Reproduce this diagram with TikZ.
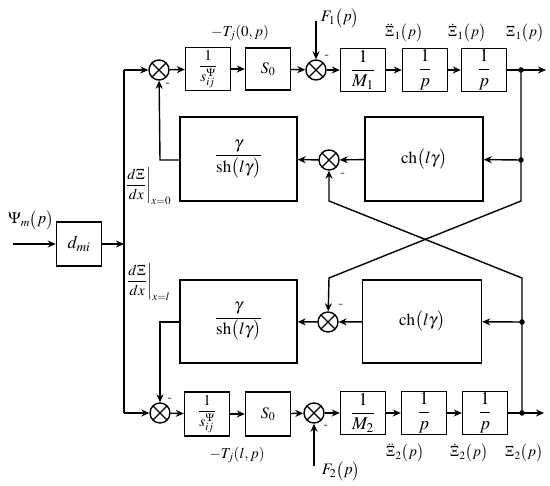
\documentclass[tikz,border=0pt]{standalone}
\usepackage{amsmath}
\usepackage{mathptmx}
\usetikzlibrary{arrows.meta}
\begin{document}
\begin{tikzpicture}[x=1pt,y=-1pt,line width=1.4pt,
  >={Stealth[length=8pt,width=7pt]},
  every node/.style={font=\fontsize{15}{17}\selectfont},
  blk/.style={draw,line width=1.4pt,minimum width=45pt,minimum height=43pt,inner sep=0pt,font=\fontsize{18}{20}\selectfont},
  bigblk/.style={draw,line width=1.4pt,minimum width=117pt,minimum height=84pt,inner sep=0pt,font=\fontsize{17}{19}\selectfont},
  sumnode/.style={draw,circle,line width=1.4pt,minimum size=20pt,inner sep=0pt,
    path picture={\draw[line width=1.4pt] ([shift={(-7.2,-7.2)}]path picture bounding box.center) -- ([shift={(7.2,7.2)}]path picture bounding box.center);
                  \draw[line width=1.4pt] ([shift={(-7.2,7.2)}]path picture bounding box.center) -- ([shift={(7.2,-7.2)}]path picture bounding box.center);}},
  lbl/.style={inner sep=1pt},
  sfont/.style={font=\fontsize{15}{17}\selectfont},
  mns/.style={inner sep=0pt,font=\bfseries\fontsize{13}{14}\selectfont},
  dotn/.style={circle,fill,inner sep=0pt,minimum size=5.5pt}]
\useasboundingbox (0,0) rectangle (550,486);

% input
\coordinate (in) at (13,244);
\node[blk,minimum height=44pt] (dmi) at (79,244) {$d_{mi}$};
\coordinate (j0) at (124,244);
\coordinate (jt) at (124,70);
\coordinate (jb) at (124,413);
\node[lbl,font=\fontsize{16}{18}\selectfont] (psi) at (31,220) {$\Psi_m\big(p\big)$};

% top row
\node[sumnode] (s1) at (159,70) {};
\node[blk,sfont] (b1) at (208,69) {$\dfrac{1}{s_{ij}^{\Psi}}$};
\node[blk,minimum height=42pt,font=\fontsize{16}{18}\selectfont] (b2) at (268,69) {$S_0$};
\node[sumnode] (s2) at (316,70) {};
\node[blk] (b3) at (363,70) {$\dfrac{1}{M_1}$};
\node[blk] (b4) at (425,70) {$\dfrac{1}{p}$};
\node[blk] (b5) at (484,70) {$\dfrac{1}{p}$};
\coordinate (o1) at (521,70);
\node[dotn] at (o1) {};
\coordinate (e1) at (546,70);
\coordinate (f1s) at (316,21);

% upper middle
\node[bigblk] (g1) at (238.5,159) {$\dfrac{\gamma}{\mathrm{sh}\big(l\gamma\big)}$};
\node[sumnode] (s3) at (329,160) {};
\node[bigblk,minimum width=118pt] (c1) at (424,159) {$\mathrm{ch}\big(l\gamma\big)$};
\coordinate (d1) at (521,160);
\node[dotn] at (d1) {};
\coordinate (k1) at (521,201);
\coordinate (k2) at (329,201);
\coordinate (k3) at (329,278);
\coordinate (k4) at (522,278);
\coordinate (g1w) at (160,160);

% lower middle
\node[bigblk,minimum height=83pt] (g2) at (238.5,321.5) {$\dfrac{\gamma}{\mathrm{sh}\big(l\gamma\big)}$};
\node[sumnode] (s4) at (328,322) {};
\node[bigblk,minimum height=83pt,minimum width=119pt] (c2) at (422,321.5) {$\mathrm{ch}\big(l\gamma\big)$};
\coordinate (d2) at (522,322);
\node[dotn] at (d2) {};
\coordinate (g2w) at (160,322);

% bottom row
\node[sumnode] (s5) at (160,413) {};
\node[blk,minimum height=44pt,sfont] (b6) at (207,414) {$\dfrac{1}{s_{ij}^{\Psi}}$};
\node[blk,minimum height=44pt,font=\fontsize{16}{18}\selectfont] (b7) at (268,414) {$S_0$};
\node[sumnode] (s6) at (314,413) {};
\node[blk] (b8) at (363,413) {$\dfrac{1}{M_2}$};
\node[blk] (b9) at (424,413) {$\dfrac{1}{p}$};
\node[blk] (b10) at (485,413) {$\dfrac{1}{p}$};
\coordinate (o2) at (522,413);
\node[dotn] at (o2) {};
\coordinate (e2) at (544,413);
\coordinate (f2s) at (314,466);

% connections
\draw[->] (in) -- (dmi);
\draw[->] (dmi) -- (j0);
\draw (jt) -- (jb);
\draw[->] (jt) -- (s1);
\draw[->] (jb) -- (s5);
\draw[->] (s1) -- (b1);
\draw[->] (b1) -- (b2);
\draw[->] (b2) -- (s2);
\draw[->] (s2) -- (b3);
\draw[->] (b3) -- (b4);
\draw[->] (b4) -- (b5);
\draw[->] (b5) -- (e1);
\draw[->] (f1s) -- (s2);
\draw[->] (o1) -- (k1) -- (k3) -- (s4);
\draw[->] (d1) -- (c1);
\draw[->] (c1) -- (s3);
\draw[->] (s3) -- (g1);
\draw[->] (g1.west |- g1w) -- (g1w) -- (s1);
\draw[->] (o2) -- (k4) -- (k2) -- (s3);
\draw[->] (d2) -- (c2);
\draw[->] (c2) -- (s4);
\draw[->] (s4) -- (g2);
\draw[->] (g2.west |- g2w) -- (g2w) -- (s5);
\draw[->] (s5) -- (b6);
\draw[->] (b6) -- (b7);
\draw[->] (b7) -- (s6);
\draw[->] (s6) -- (b8);
\draw[->] (b8) -- (b9);
\draw[->] (b9) -- (b10);
\draw[->] (b10) -- (e2);
\draw[->] (f2s) -- (s6);

% minus signs
\node[mns] at (168,85) {-};
\node[mns] at (327,57) {-};
\node[mns] at (343,175) {-};
\node[mns] at (341,306) {-};
\node[mns] at (170,400) {-};
\node[mns] at (326,427) {-};

% labels
\node[lbl] (tj0) at (240,33) {$-T_j(0,p)$};
\node[lbl,font=\fontsize{16}{18}\selectfont] (f1l) at (340,18) {$F_1\big(p\big)$};
\node[lbl] (x1a) at (404,33) {$\ddot{\Xi}_1\big(p\big)$};
\node[lbl] (x1b) at (467,33) {$\dot{\Xi}_1\big(p\big)$};
\node[lbl] (x1c) at (525,33) {$\Xi_1\big(p\big)$};
\node[lbl] (dx0) at (148,186) {$\left.\dfrac{d\Xi}{dx}\right|_{x=0}$};
\node[lbl] (dxl) at (148,282) {$\left.\dfrac{d\Xi}{dx}\right|_{x=l}$};
\node[lbl] (tjl) at (237,455) {$-T_j(l,p)$};
\node[lbl,font=\fontsize{16}{18}\selectfont] (f2l) at (341,471) {$F_2\big(p\big)$};
\node[lbl] (x2a) at (405,453) {$\ddot{\Xi}_2\big(p\big)$};
\node[lbl] (x2b) at (469,453) {$\dot{\Xi}_2\big(p\big)$};
\node[lbl] (x2c) at (524,453) {$\Xi_2\big(p\big)$};
\end{tikzpicture}
\end{document}
